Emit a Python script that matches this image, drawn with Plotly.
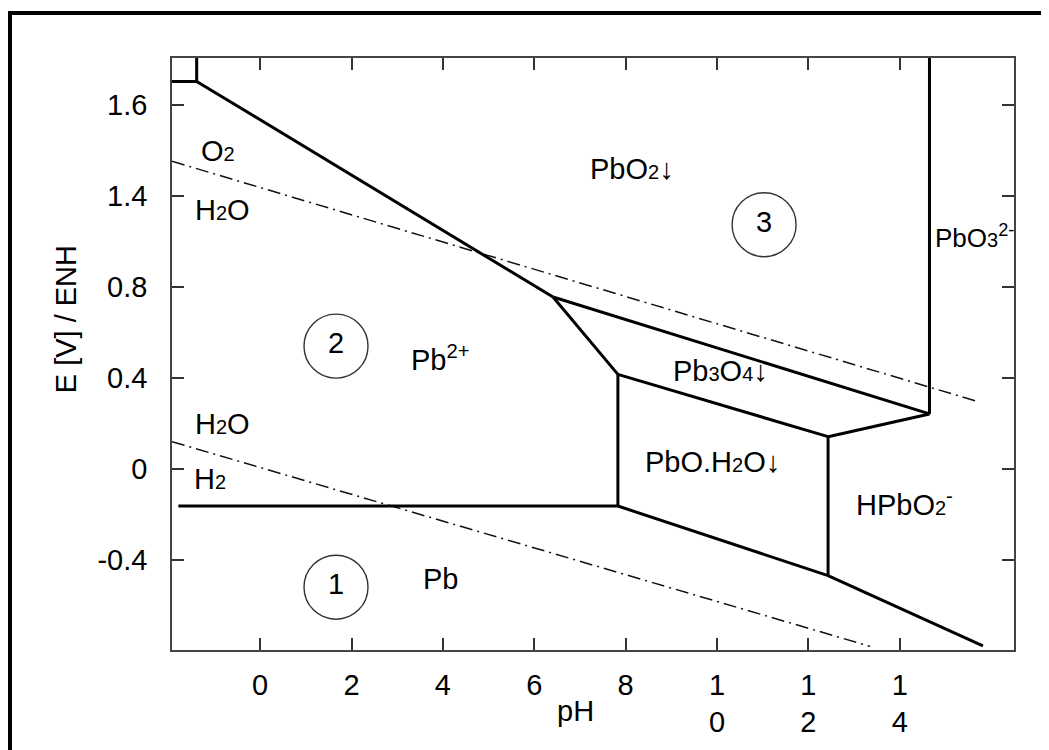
import plotly.graph_objects as go

# ---- data (pH, E in V vs ENH) ----
x_range = [-1.93, 16.5]
y_range = [-0.796, 1.807]

x_tickvals = [0, 2, 4, 6, 8, 10, 12, 14]
x_ticktext = ["0", "2", "4", "6", "8", "1<br>0", "1<br>2", "1<br>4"]
y_tickvals = [-0.4, 0.0, 0.4, 0.8, 1.2, 1.6]
y_ticktext = ["-0.4", "0", "0.4", "0.8", "1.4", "1.6"]

# water stability lines (dash-dot)
o2_ph = [-1.93, 15.75]
o2_e = [1.353, 0.294]
h2_ph = [-1.93, 13.35]
h2_e = [0.12, -0.78]

# solid boundaries
box_ph = [-1.93, -1.39, -1.39]
box_e = [1.704, 1.704, 1.807]
pbo2_pb2_ph = [-1.39, 6.41]
pbo2_pb2_e = [1.704, 0.756]
pb3o4_pb2_ph = [6.41, 7.83]
pb3o4_pb2_e = [0.756, 0.416]
pbo_pb2_ph = [7.83, 7.83]
pbo_pb2_e = [0.416, -0.163]
pb_pb2_ph = [-1.79, 7.83]
pb_pb2_e = [-0.163, -0.163]
pb_pbo_ph = [7.83, 12.43]
pb_pbo_e = [-0.163, -0.469]
pbo_hpbo2_ph = [12.43, 12.43]
pbo_hpbo2_e = [-0.469, 0.142]
pb3o4_hpbo2_ph = [12.43, 14.65]
pb3o4_hpbo2_e = [0.142, 0.242]
pbo2_pbo3_ph = [14.65, 14.65]
pbo2_pbo3_e = [0.242, 1.807]
pbo2_pb3o4_ph = [6.41, 14.65]
pbo2_pb3o4_e = [0.756, 0.242]
pb3o4_pbo_ph = [7.83, 12.43]
pb3o4_pbo_e = [0.416, 0.142]
pb_hpbo2_ph = [12.43, 15.82]
pb_hpbo2_e = [-0.469, -0.778]

solid_segments = [
    (box_ph, box_e), (pbo2_pb2_ph, pbo2_pb2_e), (pb3o4_pb2_ph, pb3o4_pb2_e),
    (pbo_pb2_ph, pbo_pb2_e), (pb_pb2_ph, pb_pb2_e), (pb_pbo_ph, pb_pbo_e),
    (pbo_hpbo2_ph, pbo_hpbo2_e), (pb3o4_hpbo2_ph, pb3o4_hpbo2_e),
    (pbo2_pbo3_ph, pbo2_pbo3_e), (pbo2_pb3o4_ph, pbo2_pb3o4_e),
    (pb3o4_pbo_ph, pb3o4_pbo_e), (pb_hpbo2_ph, pb_hpbo2_e),
]


def sub(s):
    return '<span style="font-size:20px">' + s + '</span>'


def sup(s):
    return '<sup>' + s + '</sup>'


# labels
label_text = ["O" + sub("2"), "H" + sub("2") + "O", "PbO" + sub("2") + "\u2193",
              "PbO" + sub("3") + sup("2-"),
              "Pb" + sup("2+"), "Pb" + sub("3") + "O" + sub("4") + "\u2193",
              "H" + sub("2") + "O", "H" + sub("2"),
              "PbO.H" + sub("2") + "O\u2193", "HPbO" + sub("2") + sup("-"), "Pb"]
label_ph = [-0.92, -0.82, 8.14, 14.72, 3.94, 10.07, -0.82, -1.1, 9.89, 14.11, 3.94]
label_e = [1.40, 1.14, 1.32, 1.02, 0.49, 0.43, 0.197, -0.045, 0.03, -0.148, -0.485]
label_anchor = ["center", "center", "center", "left", "center", "center",
                "center", "center", "center", "center", "center"]
label_size = [29, 29, 29, 26, 29, 29, 29, 29, 29, 29, 29]

circle_text = ["1", "2", "3"]
circle_ph = [1.66, 1.66, 11.03]
circle_e = [-0.52, 0.54, 1.074]

# ---- figure ----
OFF = 8  # page body margin
W, H = 1049 - OFF, 750 - OFF
ML, MR, MT, MB = 172 - OFF, 35, 58 - OFF, 95 - OFF
PW, PH = W - ML - MR, H - MT - MB
FONT = "Liberation Sans, Arial, sans-serif"
FS = 29

fig = go.Figure()
dash = "13px,5px,2px,5px"
for xs, ys in [(o2_ph, o2_e), (h2_ph, h2_e)]:
    fig.add_trace(go.Scatter(x=xs, y=ys, mode="lines",
                             line=dict(color="#111", width=1.5, dash=dash),
                             hoverinfo="skip", showlegend=False))
for xs, ys in solid_segments:
    fig.add_trace(go.Scatter(x=xs, y=ys, mode="lines",
                             line=dict(color="black", width=3),
                             hoverinfo="skip", showlegend=False))

fig.add_trace(go.Scatter(x=circle_ph, y=circle_e, mode="markers+text",
                         text=circle_text, textposition="middle center",
                         textfont=dict(family=FONT, size=FS, color="black"),
                         marker=dict(symbol="circle-open", size=64,
                                     line=dict(color="#333", width=1.4), color="#333"),
                         hoverinfo="skip", showlegend=False))

for t, xv, yv, an, fs in zip(label_text, label_ph, label_e, label_anchor, label_size):
    fig.add_annotation(x=xv, y=yv, text=t, showarrow=False,
                       font=dict(family=FONT, size=fs, color="black"),
                       xanchor=an, yanchor="middle")


def px_to_paper(px, py):
    # px, py are screen pixels
    return (px - OFF - ML) / PW, (H - MB - (py - OFF)) / PH


# axis titles
ax, ay = px_to_paper(575, 725)
fig.add_annotation(x=ax, y=ay, xref="paper", yref="paper", text="pH", showarrow=False,
                   font=dict(family=FONT, size=FS, color="black"), xanchor="center", yanchor="middle")
bx, by = px_to_paper(66, 325)
fig.add_annotation(x=bx, y=by, xref="paper", yref="paper", text="E [V] / ENH", showarrow=False,
                   textangle=-90, font=dict(family=FONT, size=FS, color="black"),
                   xanchor="center", yanchor="middle")

# outer frame
fx0, fy0 = px_to_paper(10, 790)
fx1, fy1 = px_to_paper(1090, 12)
fig.add_shape(type="rect", xref="paper", yref="paper", x0=fx0, y0=fy0, x1=fx1, y1=fy1,
              line=dict(color="black", width=4), layer="above")

axis_common = dict(showgrid=False, zeroline=False, showline=True, mirror="ticks",
                   linecolor="#444", linewidth=1.6, ticks="inside", ticklen=12,
                   tickcolor="#333", tickwidth=1.6,
                   tickfont=dict(family=FONT, size=FS, color="black"))
fig.update_xaxes(range=x_range, tickvals=x_tickvals, ticktext=x_ticktext,
                 ticklabelstandoff=8, **axis_common)
fig.update_yaxes(range=y_range, tickvals=y_tickvals, ticktext=y_ticktext,
                 ticklabelstandoff=17, **axis_common)

fig.update_layout(width=W, height=H, margin=dict(l=ML, r=MR, t=MT, b=MB),
                  plot_bgcolor="white", paper_bgcolor="white",
                  font=dict(family=FONT))
fig.write_html("out.html")
